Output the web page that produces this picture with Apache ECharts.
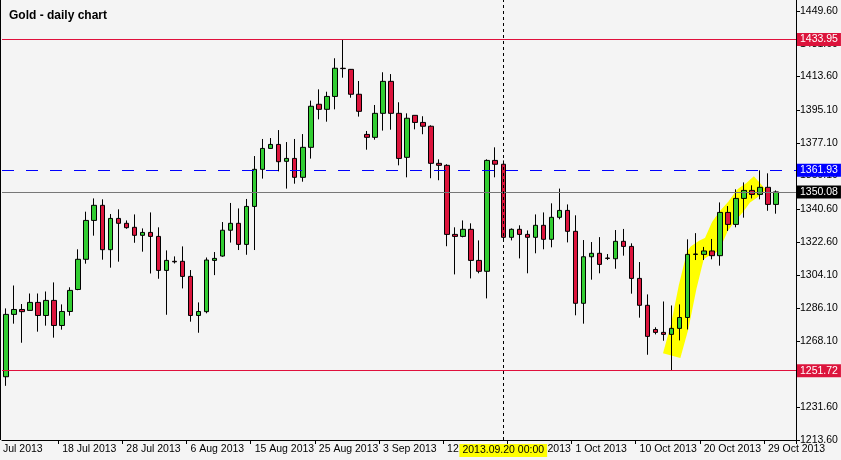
<!DOCTYPE html>
<html>
<head>
<meta charset="utf-8">
<script src="https://cdn.jsdelivr.net/npm/echarts@6/dist/echarts.min.js"></script>
<style>
  html, body { margin: 0; padding: 0; background: #f4f4f4; }
  #chart { width: 841px; height: 460px; }
</style>
</head>
<body>
<div id="chart"></div>
<script>
// 日線 OHLC
const opens = [
  1248.4, 1282.7, 1285.4, 1284.9, 1289.3, 1282.1, 1290.4, 1276.6, 1284.3, 1296.4,
  1313.0, 1334.4, 1342.7, 1318.3, 1335.5, 1332.8, 1330.6, 1326.2, 1327.8, 1325.6,
  1306.9, 1311.9, 1311.9, 1303.6, 1282.1, 1284.2, 1312.4, 1314.8, 1329.0, 1332.8,
  1321.2, 1342.1, 1362.5, 1374.0, 1376.2, 1366.9, 1368.5, 1358.1, 1374.6, 1398.3,
  1395.5, 1402.6, 1418.1, 1417.5, 1403.8, 1381.7, 1380.1, 1393.3, 1410.9, 1393.3,
  1369.1, 1392.2, 1388.3, 1386.2, 1365.8, 1364.7, 1326.7, 1325.6, 1329.5, 1312.4,
  1306.4, 1367.4, 1365.3, 1325.1, 1329.5, 1326.7, 1325.1, 1331.7, 1324.0, 1336.1,
  1339.9, 1328.4, 1288.8, 1314.4, 1316.3, 1313.7, 1313.3, 1322.9, 1320.1, 1302.5,
  1287.7, 1274.4, 1272.8, 1271.7, 1275.0, 1281.0, 1315.7, 1315.7, 1317.6, 1315.0,
  1338.8, 1332.2, 1346.5, 1350.9, 1348.7, 1352.6, 1343.2
];
const closes = [
  1282.7, 1285.4, 1284.2, 1289.3, 1282.1, 1290.4, 1276.6, 1284.3, 1295.9, 1313.0,
  1334.4, 1342.7, 1318.3, 1335.5, 1332.8, 1330.4, 1326.2, 1327.8, 1325.6, 1306.9,
  1312.4, 1311.6, 1303.6, 1282.1, 1284.3, 1312.6, 1313.5, 1329.0, 1332.8, 1321.2,
  1342.1, 1362.5, 1374.0, 1376.2, 1366.7, 1368.5, 1358.1, 1374.6, 1397.2, 1395.5,
  1402.6, 1418.1, 1417.9, 1403.8, 1394.4, 1380.1, 1393.3, 1410.9, 1393.3, 1368.5,
  1390.6, 1388.3, 1386.2, 1365.8, 1364.7, 1326.7, 1325.6, 1329.5, 1312.4, 1306.4,
  1367.4, 1365.3, 1325.1, 1329.5, 1326.7, 1325.1, 1331.7, 1324.0, 1336.1, 1339.9,
  1328.4, 1288.8, 1314.4, 1316.3, 1310.2, 1313.5, 1322.9, 1320.1, 1302.5, 1287.7,
  1270.6, 1272.8, 1271.7, 1275.0, 1281.0, 1315.7, 1315.9, 1317.6, 1315.0, 1338.8,
  1332.2, 1346.5, 1350.9, 1348.7, 1352.6, 1343.2, 1350.08
];
const lows = [
  1243.4, 1277.6, 1267.1, 1284.9, 1273.2, 1276.5, 1269.9, 1274.3, 1282.0, 1296.0,
  1310.6, 1326.0, 1312.8, 1308.4, 1311.7, 1329.8, 1322.1, 1317.2, 1305.2, 1302.3,
  1282.5, 1310.7, 1297.0, 1278.7, 1272.6, 1283.3, 1304.3, 1314.4, 1322.2, 1318.1,
  1315.5, 1318.1, 1357.4, 1374.0, 1361.4, 1351.9, 1354.6, 1355.7, 1368.4, 1390.0,
  1388.7, 1395.5, 1412.9, 1401.9, 1391.5, 1373.3, 1378.8, 1383.8, 1384.3, 1364.7,
  1358.1, 1384.5, 1381.8, 1357.6, 1356.5, 1320.2, 1304.7, 1325.1, 1302.5, 1305.3,
  1291.5, 1358.1, 1323.4, 1323.4, 1313.5, 1305.3, 1316.3, 1318.5, 1319.6, 1335.0,
  1322.3, 1282.2, 1277.6, 1301.8, 1305.3, 1312.6, 1307.8, 1315.0, 1294.1, 1280.9,
  1260.5, 1271.7, 1268.2, 1251.72, 1268.4, 1274.4, 1312.6, 1312.6, 1313.0, 1309.5,
  1328.6, 1330.6, 1335.9, 1346.5, 1346.0, 1339.7, 1338.1
];
const highs = [
  1286.0, 1298.6, 1288.4, 1294.2, 1294.2, 1295.3, 1300.3, 1288.2, 1297.6, 1318.5,
  1339.2, 1346.5, 1346.0, 1337.9, 1340.5, 1334.4, 1337.7, 1330.0, 1338.8, 1330.6,
  1317.9, 1314.6, 1320.1, 1307.1, 1289.3, 1314.0, 1317.0, 1333.5, 1344.0, 1341.0,
  1346.2, 1369.8, 1379.2, 1379.7, 1384.1, 1377.5, 1379.2, 1381.9, 1400.3, 1406.5,
  1405.2, 1423.6, 1433.95, 1417.7, 1411.1, 1383.6, 1397.9, 1415.9, 1414.9, 1399.4,
  1393.3, 1392.2, 1391.7, 1386.7, 1368.0, 1365.3, 1330.6, 1334.4, 1332.8, 1323.4,
  1368.0, 1374.6, 1367.4, 1330.0, 1331.7, 1328.9, 1337.7, 1338.8, 1343.8, 1351.9,
  1343.2, 1337.2, 1323.6, 1322.5, 1325.2, 1315.9, 1329.1, 1329.7, 1321.8, 1311.5,
  1293.7, 1275.6, 1289.8, 1287.6, 1288.2, 1324.0, 1327.4, 1319.8, 1324.2, 1344.3,
  1342.3, 1351.5, 1355.3, 1353.7, 1361.93, 1360.3, 1350.9
];
// 底部日期标签（按K线序号）
const dateLabelIdx = [7, 15, 23, 31, 39, 47, 55, 63, 71, 79, 87, 95];
const dateLabels = ['18 Jul 2013', '28 Jul 2013', '6 Aug 2013', '15 Aug 2013', '25 Aug 2013',
  '3 Sep 2013', '12 Sep 2013', '23 Sep 2013', '1 Oct 2013', '10 Oct 2013', '20 Oct 2013', '29 Oct 2013'];
// 右侧价格刻度
const priceTicks = [1213.6, 1231.6, 1249.6, 1268.1, 1286.1, 1304.1, 1322.6, 1340.6,
  1359.1, 1377.1, 1395.1, 1413.6, 1431.6, 1449.6];
// 黄色高亮趋势
const highlightIdx = [83, 84, 85, 86, 87, 88, 89, 90, 91, 92, 93, 94];
const highlightVals = [1260, 1276, 1298, 1316, 1319, 1321, 1331, 1337, 1342, 1348, 1351, 1355];
const crossIdx = 62;
const crossLabel = '2013.09.20 00:00';

const FONT = 'Liberation Sans';
const FS = 10.5;
const n = opens.length;
const categories = [];
for (let i = 0; i < n + 2; i++) {
  const k = dateLabelIdx.indexOf(i);
  categories.push(k >= 0 ? dateLabels[k] : '');
}
const ohlc = opens.map((o, i) => [o, closes[i], lows[i], highs[i]]);
const hl = categories.map(() => null);
highlightIdx.forEach((idx, k) => { hl[idx] = highlightVals[k]; });

const chart = echarts.init(document.getElementById('chart'));
chart.setOption({
  backgroundColor: '#f4f4f4',
  animation: false,
  title: {
    text: 'Gold - daily chart',
    left: 4, top: 5,
    textStyle: { fontFamily: FONT, fontSize: 12, fontWeight: 'bold', color: '#000' },
  },
  grid: { left: 2, right: 45, top: 0, bottom: 20 },
  graphic: [
    { type: 'rect', left: 0, top: 0, shape: { width: 1, height: 440 }, style: { fill: '#000' } },
    { type: 'text', left: 3, top: 444,
      style: { text: 'Jul 2013', font: FS + 'px "Liberation Sans"', fill: '#000' } },
  ],
  xAxis: {
    type: 'category',
    data: categories,
    boundaryGap: true,
    axisLine: { lineStyle: { color: '#000' } },
    axisTick: {
      show: true, length: 4,
      interval: (i) => dateLabelIdx.includes(i),
      lineStyle: { color: '#000' },
    },
    axisLabel: {
      interval: (i) => dateLabelIdx.includes(i),
      align: 'left', margin: 4,
      fontFamily: FONT, fontSize: FS, color: '#000',
    },
    splitLine: { show: false },
  },
  yAxis: {
    type: 'value',
    position: 'right',
    min: 1213.6, max: 1455.65,
    axisLine: { show: true, lineStyle: { color: '#000' } },
    axisTick: { show: true, length: 4, customValues: priceTicks, lineStyle: { color: '#000' } },
    axisLabel: {
      customValues: priceTicks, margin: 4,
      fontFamily: FONT, fontSize: FS, color: '#000',
      formatter: (v) => v.toFixed(2),
    },
    splitLine: { show: false },
  },
  series: [
    {
      type: 'line',
      data: hl,
      symbol: 'none',
      lineStyle: { color: '#ffff00', width: 18, cap: 'butt', join: 'bevel' },
      z: 1,
    },
    {
      type: 'candlestick',
      data: ohlc,
      barWidth: 5,
      z: 3,
      itemStyle: {
        color: '#32cd32', color0: '#dc143c',
        borderColor: '#000', borderColor0: '#000', borderWidth: 1,
      },
      markLine: {
        symbol: 'none',
        silent: true,
        data: [
          { yAxis: 1433.95, lineStyle: { color: '#e0103c', type: 'solid', width: 1 },
            label: { backgroundColor: '#dc143c' } },
          { yAxis: 1251.72, lineStyle: { color: '#e0103c', type: 'solid', width: 1 },
            label: { backgroundColor: '#dc143c' } },
          { yAxis: 1361.93, lineStyle: { color: '#0000ff', type: [12, 12], width: 1 },
            label: { backgroundColor: '#0000ff' } },
          { yAxis: 1350.08, lineStyle: { color: '#777', type: 'solid', width: 1 },
            label: { backgroundColor: '#000' } },
          { xAxis: crossIdx, lineStyle: { color: '#000', type: [3, 3], width: 1 },
            label: {
              position: 'start', distance: 4, formatter: crossLabel,
              backgroundColor: '#ffff00', color: '#000', padding: [1, 3],
              fontFamily: FONT, fontSize: FS,
            } },
        ],
        label: {
          position: 'end', distance: 1, color: '#fff', padding: [1, 3],
          fontFamily: FONT, fontSize: FS,
          formatter: (p) => p.value.toFixed(2),
        },
      },
    },
  ],
});
</script>
</body>
</html>
